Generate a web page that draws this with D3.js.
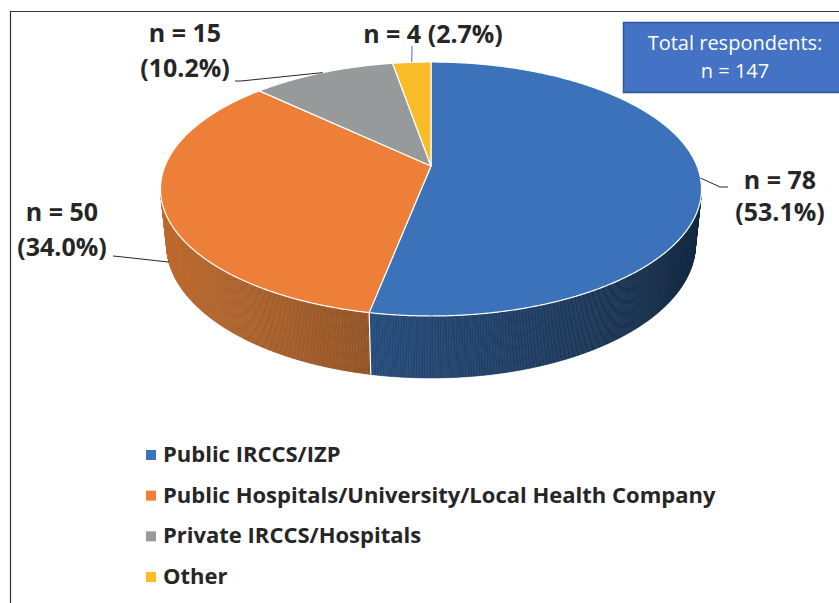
<!DOCTYPE html>
<html>
<head>
<meta charset="utf-8">
<script src="https://cdn.jsdelivr.net/npm/d3@7"></script>
<style>
    body { margin: 0; background: #fff; }
    svg { display: block; font-family: "Open Sans", "Noto Sans", sans-serif; }
</style>
</head>
<body>
<div id="holder"></div>
<script>
const categories = ["Public IRCCS/IZP", "Public Hospitals/University/Local Health Company", "Private IRCCS/Hospitals", "Other"];
const counts = [78, 50, 15, 4];
const sliceColors = ["#3b72b9", "#ed7f38", "#979a9a", "#fbbc2a"];

const w = 839, h = 603;

// label layout: centre of text block, line baselines, leader line points (pie end added later)
const labelLayout = [
    {x: 780, y: [189, 221], leader: [[728, 187], [720, 187]], pieH: 0, stroke: "#262626"},
    {x: 62, y: [221, 256], leader: [[113, 256], [123, 257]], pieH: 1, stroke: "#262626"},
    {x: 185, y: [42, 77], leader: [[235, 81], [241, 81]], pieH: 0, stroke: "#262626"},
    {x: 433, y: [43], leader: [[412, 46]], pieH: 0, stroke: "#4472c4", oneLine: true}
];

const total = d3.sum(counts);
const pct = d3.format(".1%");

// simple perspective view of a tilted disk
const cam = {cx: 431, cy: 166, f: 1303.6, D: 4.9, s: 0.4617, c: 0.887, H: 0.235};
function project(a, hh) {
    const X = Math.sin(a), Yd = -Math.cos(a);
    const y = -Yd * cam.s + hh * cam.c;
    const z = cam.D - Yd * cam.c - hh * cam.s;
    return [cam.cx + cam.f * X / z, cam.cy - cam.f * y / z];
}
const centre = [cam.cx, cam.cy];
const visible = a => Math.cos(a) < -1 / (cam.D * cam.c);
const shade = (col, a) => {
    const k = Math.max(0.38, 0.6 + 0.26 * Math.cos(a - 1.5 * Math.PI));
    const c = d3.rgb(col);
    return d3.rgb(c.r * k * 0.95, c.g * k, c.b * k).formatHex();
};

const color = d3.scaleOrdinal().domain(categories).range(sliceColors);
const pie = d3.pie().sort(null).value(d => d.value);
const arcs = pie(categories.map((k, i) => ({key: k, value: counts[i]})));

const line = d3.line();
const step = 0.005;
const samples = (a0, a1) => d3.range(a0, a1, step).concat([a1]);

const svg = d3.select('#holder')
    .append('svg')
    .attr('width', w)
    .attr('height', h);

svg.append('rect').attr('width', w).attr('height', h).attr('fill', '#fff');

// side walls
const walls = svg.append('g');
arcs.forEach(d => {
    const pts = samples(d.startAngle, d.endAngle);
    for (let i = 0; i < pts.length - 1; i++) {
        const a0 = pts[i], a1 = pts[i + 1], am = (a0 + a1) / 2;
        if (!visible(am)) continue;
        const col = shade(color(d.data.key), am);
        walls.append('path')
            .attr('d', line([project(a0, 0), project(a1, 0), project(a1, -cam.H), project(a0, -cam.H)]) + 'Z')
            .attr('fill', col)
            .attr('stroke', col)
            .attr('stroke-width', 0.6);
    }
});
arcs.forEach(d => {
    if (!visible(d.startAngle)) return;
    walls.append('path')
        .attr('d', line([project(d.startAngle, 0), project(d.startAngle, -cam.H)]))
        .attr('stroke', '#fff')
        .attr('stroke-width', 1.2);
});

// top faces
svg.append('g')
    .selectAll('path')
    .data(arcs)
    .enter()
    .append('path')
    .attr('d', d => line([centre].concat(samples(d.startAngle, d.endAngle).map(a => project(a, 0)))) + 'Z')
    .attr('fill', d => color(d.data.key))
    .attr('stroke', '#fff')
    .attr('stroke-width', 1.2)
    .attr('stroke-linejoin', 'round');

// data labels
const labels = svg.append('g');
arcs.forEach((d, i) => {
    const L = labelLayout[i];
    const mid = (d.startAngle + d.endAngle) / 2;
    const end = project(mid, -cam.H * L.pieH);
    labels.append('path')
        .attr('d', line(L.leader.concat([end])))
        .attr('fill', 'none')
        .attr('stroke', L.stroke)
        .attr('stroke-width', 1);
    const txt = L.oneLine
        ? [`n = ${d.data.value} (${pct(d.data.value / total)})`]
        : [`n = ${d.data.value}`, `(${pct(d.data.value / total)})`];
    txt.forEach((t, j) => {
        labels.append('text')
            .attr('x', L.x)
            .attr('y', L.y[j])
            .attr('text-anchor', 'middle')
            .attr('font-size', 25)
            .attr('font-weight', 700)
            .attr('fill', '#262626')
            .text(t);
    });
});

// total box
const box = svg.append('g');
box.append('rect')
    .attr('x', 623.5).attr('y', 22.5)
    .attr('width', 240).attr('height', 70)
    .attr('fill', '#4472c4')
    .attr('stroke', '#2f5597')
    .attr('stroke-width', 1.5);
box.selectAll('text')
    .data(["Total respondents:", `n = ${total}`])
    .enter()
    .append('text')
    .attr('x', 735)
    .attr('y', (d, i) => 50 + i * 27.5)
    .attr('text-anchor', 'middle')
    .attr('font-size', 20)
    .attr('fill', '#fff')
    .text(d => d);

// legend
const legend = svg.append('g')
    .attr('transform', 'translate(146,0)');
const row = d3.scalePoint().domain(categories).range([450, 572]);
const item = legend.selectAll('g')
    .data(categories)
    .enter()
    .append('g')
    .attr('transform', d => `translate(0,${row(d)})`);
item.append('rect')
    .attr('width', 10)
    .attr('height', 10)
    .attr('fill', d => color(d));
item.append('text')
    .attr('x', 17)
    .attr('y', 12)
    .attr('font-size', 22)
    .attr('font-weight', 700)
    .attr('fill', '#262626')
    .text(d => d);

// chart frame
svg.append('path')
    .attr('d', `M10.5,${h}V11.5H${w}`)
    .attr('fill', 'none')
    .attr('stroke', '#333')
    .attr('stroke-width', 1.2);
</script>
</body>
</html>
